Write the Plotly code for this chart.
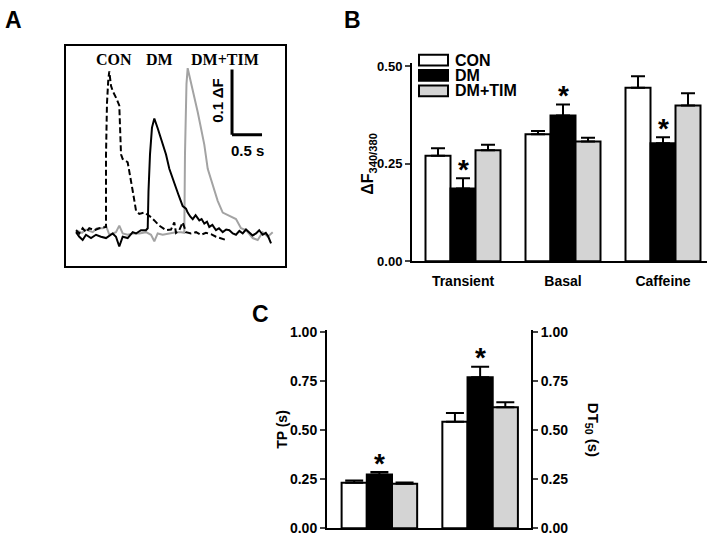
import plotly.graph_objects as go

W, H = 719, 545
FONT = "Liberation Sans, Arial, sans-serif"
SERIF = "Liberation Serif, Times New Roman, serif"
GRAY_FILL = "#d4d4d4"

# ---- panel A: example Ca transients (time s, dF 340/380) ----
con_t = [0.167, 0.222, 0.278, 0.333, 0.388, 0.472, 0.555, 0.612, 0.667, 0.667, 0.683, 0.705,
         0.722, 0.75, 0.783, 0.833, 0.888, 0.917, 0.945, 1.028, 1.05, 1.112, 1.167, 1.222,
         1.305, 1.388, 1.472, 1.555, 1.667, 1.75, 1.805, 1.833, 1.888, 1.945, 2.0, 2.083,
         2.167, 2.25, 2.333, 2.417, 2.5, 2.583, 2.667]
con_f = [0.003, -0.002, 0.006, 0.0, 0.006, 0.003, 0.006, 0.007, 0.008, 0.119, 0.197, 0.234,
         0.246, 0.224, 0.215, 0.206, 0.194, 0.119, 0.112, 0.107, 0.097, 0.063, 0.033, 0.028,
         0.030, 0.025, 0.018, 0.010, 0.003, 0.004, 0.015, -0.001, 0.003, 0.015, 0.0, -0.002,
         0.0, -0.004, -0.001, -0.003, -0.007, -0.010, -0.012]

dm_t = [0.167, 0.222, 0.278, 0.333, 0.417, 0.5, 0.583, 0.667, 0.778, 0.833, 0.888, 0.945,
        1.028, 1.112, 1.167, 1.25, 1.333, 1.362, 1.375, 1.4, 1.433, 1.472, 1.528, 1.612,
        1.667, 1.722, 1.767, 1.833, 1.883, 1.945, 2.0, 2.028, 2.07, 2.112, 2.16, 2.222,
        2.26, 2.305, 2.35, 2.388, 2.44, 2.5, 2.55, 2.612, 2.67, 2.722, 2.78, 2.833, 2.89,
        2.945, 3.0, 3.055, 3.11, 3.167, 3.22, 3.278, 3.33, 3.367, 3.417]
dm_f = [0.0, -0.007, -0.012, -0.004, -0.009, -0.004, -0.007, -0.009, -0.002, -0.007, -0.022, -0.007,
        -0.009, 0.0, -0.002, 0.003, 0.003, 0.006, 0.063, 0.119, 0.160, 0.174, 0.159, 0.134,
        0.119, 0.097, 0.084, 0.068, 0.055, 0.040, 0.036, 0.030, 0.024, 0.020, 0.026, 0.018,
        0.020, 0.013, 0.016, 0.008, 0.011, 0.003, 0.006, 0.0, 0.004, 0.003, -0.002, -0.004, 0.002,
        -0.002, 0.004, 0.0, -0.005, -0.002, 0.003, -0.004, -0.001, -0.006, -0.017]

tim_t = [0.167, 0.267, 0.333, 0.445, 0.517, 0.612, 0.667, 0.722, 0.833, 0.888, 0.945, 1.028,
         1.112, 1.222, 1.333, 1.417, 1.472, 1.528, 1.612, 1.722, 1.833, 1.917, 1.972, 1.983,
         2.008, 2.028, 2.083, 2.138, 2.195, 2.25, 2.305, 2.362, 2.445, 2.528, 2.612, 2.722,
         2.833, 2.917, 3.0, 3.112, 3.195, 3.278, 3.362, 3.445]
tim_f = [0.003, -0.001, 0.004, 0.0, 0.006, 0.006, 0.010, -0.004, 0.0, 0.010, -0.002, -0.004,
         -0.002, -0.002, 0.0, -0.004, -0.014, -0.002, -0.004, -0.002, 0.0, 0.0, -0.001, 0.119,
         0.227, 0.251, 0.229, 0.209, 0.184, 0.159, 0.134, 0.097, 0.073, 0.048, 0.030, 0.025,
         0.020, 0.006, 0.003, -0.009, -0.012, 0.0, -0.007, 0.0]

# ---- panel B: dF340/380 ----
b_groups = ["Transient", "Basal", "Caffeine"]
b_con = [0.271, 0.326, 0.445]
b_con_err = [0.019, 0.008, 0.030]
b_dm = [0.187, 0.374, 0.303]
b_dm_err = [0.026, 0.028, 0.015]
b_tim = [0.285, 0.307, 0.400]
b_tim_err = [0.014, 0.010, 0.031]

# ---- panel C: TP and DT50 (s) ----
c_groups = ["TP", "DT50"]
c_con = [0.232, 0.544]
c_con_err = [0.012, 0.045]
c_dm = [0.274, 0.771]
c_dm_err = [0.013, 0.053]
c_tim = [0.227, 0.618]
c_tim_err = [0.007, 0.025]

names = ["CON", "DM", "DM+TIM"]
fills = ["white", "black", GRAY_FILL]


def px_x(p):
    return p / W


def px_y(p):
    return 1 - p / H


fig = go.Figure()

# panel A
fig.add_trace(go.Scatter(x=tim_t, y=tim_f, mode="lines", line=dict(color="#a3a3a3", width=2),
                         xaxis="x", yaxis="y", showlegend=False))
fig.add_trace(go.Scatter(x=dm_t, y=dm_f, mode="lines", line=dict(color="black", width=2),
                         xaxis="x", yaxis="y", showlegend=False))
fig.add_trace(go.Scatter(x=con_t, y=con_f, mode="lines",
                         line=dict(color="black", width=2, dash="6px,3px"),
                         xaxis="x", yaxis="y", showlegend=False))

# panel B bars
b_vals = [(b_con, b_con_err), (b_dm, b_dm_err), (b_tim, b_tim_err)]
for name, fill, (vals, errs) in zip(names, fills, b_vals):
    fig.add_trace(go.Bar(
        x=b_groups, y=vals, name=name, xaxis="x2", yaxis="y2",
        marker=dict(color=fill, line=dict(color="black", width=2)),
        error_y=dict(type="data", array=errs, arrayminus=[0] * len(errs), symmetric=False,
                     color="black", thickness=2, width=7),
        showlegend=False,
    ))

# panel C bars: TP on left axis, DT50 on right axis
c_vals = [(c_con, c_con_err), (c_dm, c_dm_err), (c_tim, c_tim_err)]
for i, yax in enumerate(["y3", "y4"]):
    for name, fill, (vals, errs) in zip(names, fills, c_vals):
        fig.add_trace(go.Bar(
            x=[c_groups[i]], y=[vals[i]], name=name, xaxis="x3", yaxis=yax,
            marker=dict(color=fill, line=dict(color="black", width=2)),
            error_y=dict(type="data", array=[errs[i]], arrayminus=[0], symmetric=False,
                         color="black", thickness=2, width=9),
            showlegend=False,
        ))

ann = []
# significance stars above DM bars
for g, v, e in zip(b_groups, b_dm, b_dm_err):
    ann.append(dict(x=g, y=v + e, xref="x2", yref="y2", text="*", showarrow=False,
                    yanchor="middle", yshift=9, font=dict(size=28)))
for g, v, e, yr in zip(c_groups, c_dm, c_dm_err, ["y3", "y4"]):
    ann.append(dict(x=g, y=v + e, xref="x3", yref=yr, text="*", showarrow=False,
                    yanchor="middle", yshift=9, font=dict(size=28)))

# panel A labels and scale bar text
for txt, tx in zip(names, [0.808, 1.562, 2.658]):
    ann.append(dict(x=tx, y=0.264, xref="x", yref="y", text=txt, showarrow=False,
                    font=dict(family=SERIF, size=16, weight="bold")))
ann.append(dict(x=2.533, y=0.201, xref="x", yref="y", text="0.1 ΔF", textangle=-90,
                showarrow=False, font=dict(size=15)))
ann.append(dict(x=3.017, y=0.125, xref="x", yref="y", text="0.5 s",
                showarrow=False, font=dict(size=15)))


def paper_text(text, x, y, size, angle=0, xanchor="center"):
    return dict(x=px_x(x), y=px_y(y), xref="paper", yref="paper", text=text,
                textangle=angle, showarrow=False, xanchor=xanchor, yanchor="middle",
                font=dict(size=size))


# panel letters
for letter, lx, ly in [("A", 13, 14), ("B", 352, 14), ("C", 260, 316)]:
    ann.append(paper_text(letter, lx, ly, 23))

# axis titles
ann.append(paper_text("ΔF<sub>340/380</sub>", 369, 162, 16, angle=-90))
ann.append(paper_text("TP (s)", 282, 435, 14, angle=-90))
ann.append(paper_text("DT<sub>50</sub> (s)", 592, 435, 15, angle=90))

# legend for panel B (drawn boxes + labels)
shapes = []
for k, (name, fill) in enumerate(zip(names, fills)):
    cy = 55.5 + 15.8 * k
    shapes.append(dict(type="rect", xref="paper", yref="paper",
                       x0=px_x(419), x1=px_x(448), y0=px_y(cy - 5.5), y1=px_y(cy + 5.5),
                       fillcolor=fill, line=dict(color="black", width=2)))
    ann.append(paper_text(name, 453, cy, 16, xanchor="left"))

# scale bar in panel A (0.1 dF x 0.5 s)
shapes.append(dict(type="line", xref="x", yref="y", x0=2.767, x1=2.767, y0=0.149, y1=0.249,
                   line=dict(color="black", width=3)))
shapes.append(dict(type="line", xref="x", yref="y", x0=2.767, x1=3.267, y0=0.149, y1=0.149,
                   line=dict(color="black", width=3)))

axis_common = dict(showgrid=False, zeroline=False, showline=True, linecolor="black", linewidth=2)

fig.update_layout(
    width=W, height=H, margin=dict(l=0, r=0, t=0, b=0),
    paper_bgcolor="white", plot_bgcolor="white",
    font=dict(family=FONT, color="black", weight="bold"),
    barmode="group", bargap=0.25, showlegend=False,
    xaxis=dict(domain=[px_x(66), px_x(285)], range=[0, 3.65], anchor="y", mirror=True,
               showticklabels=False, ticks="", **axis_common),
    yaxis=dict(domain=[px_y(267), px_y(41)], range=[-0.052, 0.285], anchor="x", mirror=True,
               showticklabels=False, ticks="", **axis_common),
    xaxis2=dict(domain=[px_x(412), px_x(707)], range=[-0.51, 2.44], anchor="y2",
                ticks="", tickfont=dict(size=14, weight="bold"), ticklabelstandoff=6,
                **axis_common),
    yaxis2=dict(domain=[px_y(262), px_y(58)], range=[0, 0.51], anchor="x2",
                tickvals=[0, 0.25, 0.5], tickformat=".2f", ticks="outside", ticklen=5,
                tickwidth=2, tickfont=dict(size=13, weight="bold"), **axis_common),
    xaxis3=dict(domain=[px_x(327), px_x(531)], range=[-0.52, 1.505], anchor="y3",
                showticklabels=False, ticks="", **axis_common),
    yaxis3=dict(domain=[px_y(536), px_y(333)], range=[0, 1.01], anchor="x3",
                tickvals=[0, 0.25, 0.5, 0.75, 1.0], tickformat=".2f", ticks="outside",
                ticklen=5, tickwidth=2, tickfont=dict(size=14, weight="bold"), **axis_common),
    yaxis4=dict(domain=[px_y(536), px_y(333)], range=[0, 1.01], anchor="x3", overlaying="y3",
                side="right", tickvals=[0, 0.25, 0.5, 0.75, 1.0], tickformat=".2f",
                ticks="outside", ticklen=5, tickwidth=2, tickfont=dict(size=14, weight="bold"),
                **axis_common),
    annotations=ann, shapes=shapes,
)

fig.write_html("out.html", config={"displayModeBar": False},
               post_script="document.body.style.margin='0';document.body.style.overflow='hidden';")
